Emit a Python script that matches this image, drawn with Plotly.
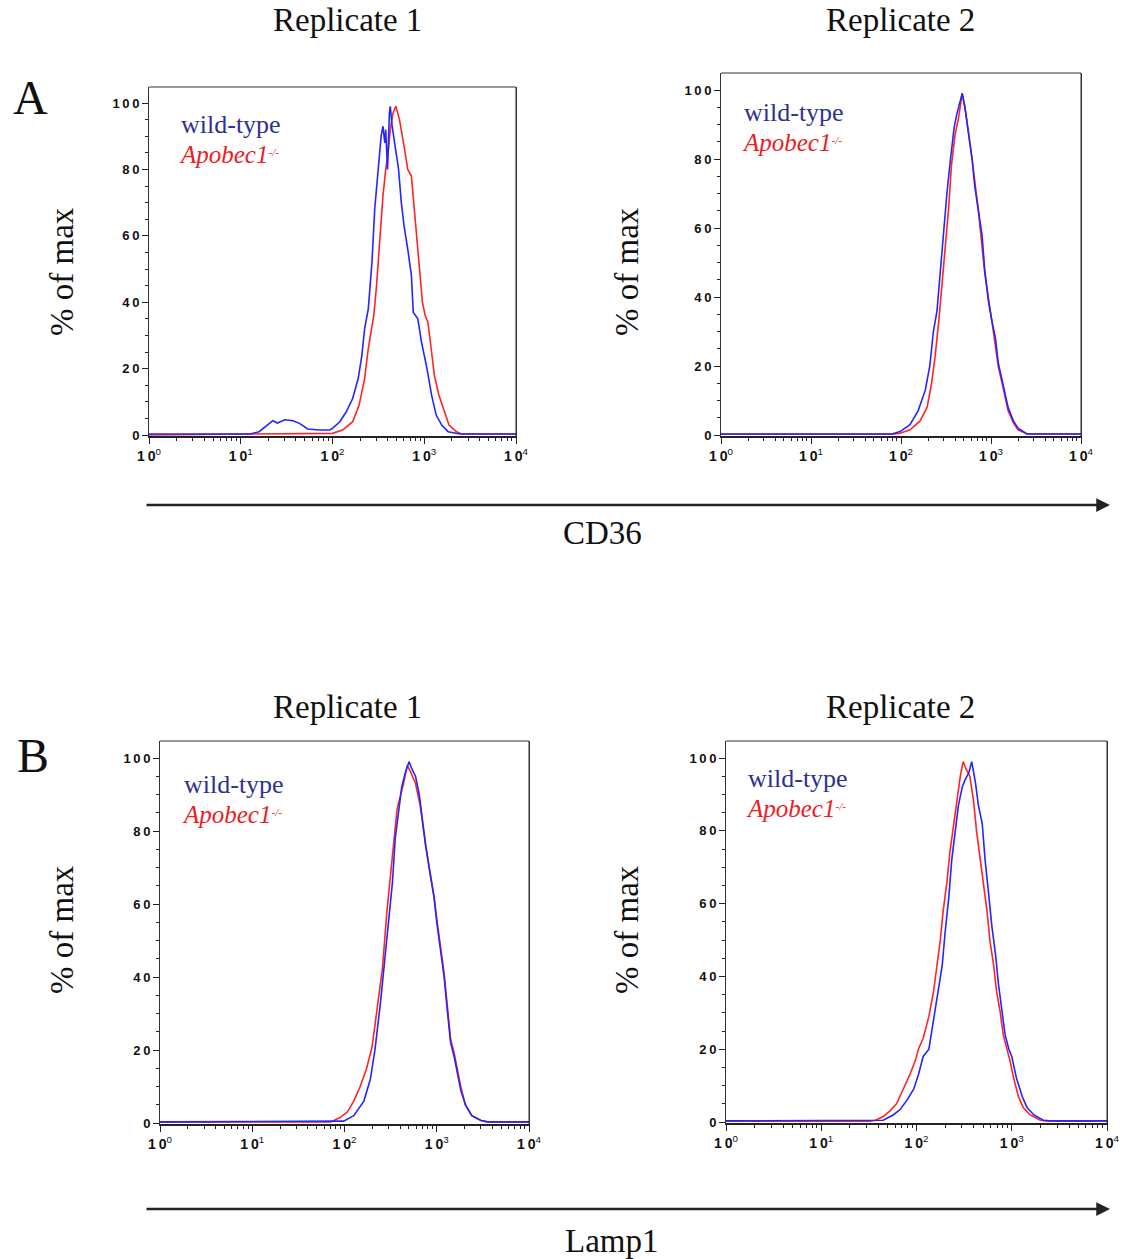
import numpy as np
import plotly.graph_objects as go

# ---------------- data (x = log10 fluorescence, y = % of max) ----------------
a1_wt_x = [0.0, 1.10, 1.20, 1.35, 1.40, 1.48, 1.57, 1.64, 1.73, 1.86, 1.97, 2.00, 2.08, 2.15, 2.22, 2.28,
           2.32, 2.35, 2.39, 2.43, 2.46, 2.50, 2.53, 2.55, 2.57, 2.58, 2.60, 2.62, 2.63, 2.65, 2.68,
           2.72, 2.75, 2.78, 2.82, 2.86, 2.88, 2.93, 2.97, 3.03, 3.08, 3.13, 3.19, 3.26, 3.39, 4.0]
a1_wt_y = [0.3, 0.3, 1.0, 4.3, 3.6, 4.6, 4.3, 3.5, 1.8, 1.5, 1.5, 2.0, 4.0, 7.0, 11.0, 17.0,
           24.0, 32.0, 38.0, 52.0, 68.0, 82.0, 90.0, 93.0, 88.0, 92.0, 80.0, 97.0, 99.0, 93.0, 88.0,
           80.0, 70.0, 63.0, 56.0, 48.0, 37.0, 35.0, 28.0, 20.0, 12.0, 6.0, 3.0, 1.0, 0.3, 0.3]
a1_ko_x = [0.0, 1.10, 2.00, 2.11, 2.22, 2.29, 2.35, 2.39, 2.43, 2.45, 2.48, 2.52, 2.55, 2.58, 2.61,
           2.63, 2.66, 2.69, 2.73, 2.78, 2.82, 2.86, 2.90, 2.95, 2.98, 3.01, 3.04, 3.08, 3.11, 3.16,
           3.22, 3.27, 3.35, 3.41, 4.0]
a1_ko_y = [0.0, 0.3, 0.5, 1.5, 4.0, 9.0, 17.0, 26.0, 33.0, 36.0, 45.0, 60.0, 72.0, 80.0, 86.0,
           92.0, 97.0, 99.0, 95.0, 87.0, 80.0, 78.0, 65.0, 50.0, 40.0, 36.0, 34.0, 25.0, 18.0, 12.0,
           7.0, 3.0, 1.0, 0.3, 0.3]

a2_wt_x = [0.0, 1.90, 1.99, 2.10, 2.19, 2.27, 2.32, 2.36, 2.40, 2.43, 2.47, 2.51, 2.55, 2.59, 2.62,
           2.66, 2.68, 2.71, 2.75, 2.79, 2.82, 2.86, 2.90, 2.93, 2.97, 3.01, 3.05, 3.08, 3.14, 3.19,
           3.25, 3.30, 3.40, 4.0]
a2_wt_y = [0.3, 0.3, 1.0, 3.0, 7.0, 13.0, 20.0, 30.0, 36.0, 46.0, 58.0, 70.0, 80.0, 89.0, 93.0,
           97.0, 99.0, 95.0, 88.0, 80.0, 72.0, 65.0, 58.0, 48.0, 39.0, 33.0, 28.0, 21.0, 14.0, 8.0,
           4.0, 2.0, 0.3, 0.3]
a2_ko_x = [0.0, 1.90, 1.99, 2.10, 2.21, 2.29, 2.34, 2.38, 2.42, 2.45, 2.49, 2.53, 2.56, 2.60, 2.64,
           2.68, 2.71, 2.75, 2.79, 2.86, 2.93, 3.01, 3.08, 3.14, 3.19, 3.25, 3.30, 3.40, 4.0]
a2_ko_y = [0.2, 0.2, 0.5, 1.5, 4.0, 8.0, 15.0, 23.0, 33.0, 42.0, 54.0, 66.0, 78.0, 87.0, 92.0,
           99.0, 95.0, 88.0, 80.0, 65.0, 47.0, 33.0, 20.0, 13.0, 7.0, 3.5, 1.5, 0.3, 0.3]

b1_wt_x = [0.0, 1.88, 1.99, 2.10, 2.21, 2.28, 2.33, 2.39, 2.44, 2.48, 2.52, 2.55, 2.59, 2.62, 2.66,
           2.70, 2.73, 2.77, 2.81, 2.84, 2.88, 2.93, 2.97, 3.00, 3.04, 3.08, 3.11, 3.15, 3.19, 3.22,
           3.26, 3.31, 3.38, 3.48, 3.55, 4.0]
b1_wt_y = [0.3, 0.3, 0.5, 2.0, 6.0, 12.0, 20.0, 33.0, 45.0, 55.0, 66.0, 78.0, 87.0, 92.0, 96.0,
           99.0, 97.0, 95.0, 90.0, 84.0, 76.0, 68.0, 62.0, 55.0, 48.0, 40.0, 32.0, 22.0, 18.0, 14.0,
           9.0, 5.0, 2.0, 0.7, 0.3, 0.3]
b1_ko_x = [0.0, 1.85, 1.88, 1.95, 2.03, 2.10, 2.17, 2.24, 2.30, 2.35, 2.41, 2.46, 2.50, 2.53, 2.57,
           2.61, 2.64, 2.68, 2.72, 2.77, 2.82, 2.88, 2.97, 3.00, 3.08, 3.15, 3.19, 3.26, 3.31, 3.38,
           3.48, 3.55, 4.0]
b1_ko_y = [0.2, 0.3, 0.6, 1.5, 3.0, 6.0, 10.0, 15.0, 21.0, 31.0, 42.0, 58.0, 68.0, 77.0, 86.0,
           90.0, 93.0, 98.0, 96.0, 93.0, 87.0, 76.0, 62.0, 56.0, 41.0, 23.0, 19.0, 10.0, 5.0, 2.0,
           0.7, 0.3, 0.3]

b2_wt_x = [0.0, 1.60, 1.65, 1.76, 1.83, 1.90, 1.97, 2.02, 2.07, 2.13, 2.18, 2.23, 2.27, 2.30, 2.34,
           2.37, 2.41, 2.44, 2.48, 2.51, 2.55, 2.58, 2.62, 2.65, 2.69, 2.72, 2.76, 2.79, 2.83, 2.86,
           2.90, 2.93, 2.97, 3.00, 3.05, 3.11, 3.16, 3.23, 3.33, 3.40, 4.0]
b2_wt_y = [0.3, 0.3, 0.5, 2.0, 3.5, 6.0, 9.0, 13.0, 18.0, 20.0, 28.0, 36.0, 43.0, 52.0, 62.0,
           72.0, 80.0, 87.0, 92.0, 94.0, 96.0, 99.0, 93.0, 87.0, 82.0, 72.0, 62.0, 54.0, 46.0, 38.0,
           30.0, 24.0, 20.0, 18.0, 12.0, 7.0, 4.0, 2.0, 0.5, 0.3, 0.3]
b2_ko_x = [0.0, 1.51, 1.57, 1.65, 1.72, 1.79, 1.86, 1.93, 1.99, 2.02, 2.07, 2.13, 2.18, 2.21, 2.25,
           2.28, 2.32, 2.35, 2.39, 2.42, 2.46, 2.49, 2.52, 2.56, 2.60, 2.63, 2.67, 2.70, 2.74, 2.77,
           2.81, 2.84, 2.88, 2.91, 2.95, 2.98, 3.02, 3.07, 3.12, 3.19, 3.30, 3.37, 4.0]
b2_ko_y = [0.2, 0.2, 0.5, 1.5, 3.0, 5.0, 9.0, 13.0, 17.0, 20.0, 23.0, 29.0, 36.0, 42.0, 50.0,
           58.0, 66.0, 74.0, 82.0, 88.0, 95.0, 99.0, 97.0, 95.0, 88.0, 80.0, 72.0, 66.0, 58.0, 50.0,
           43.0, 36.0, 30.0, 24.0, 20.0, 17.0, 12.0, 7.0, 4.0, 2.0, 0.5, 0.3, 0.3]

x_tick_exponents = [0, 1, 2, 3, 4]
y_tick_values = [0, 20, 40, 60, 80, 100]
col_titles = ["Replicate 1", "Replicate 2"]
row_labels = ["A", "B"]
marker_names = ["CD36", "Lamp1"]
series_names = ["wild-type", "Apobec1"]

# ---------------- layout helpers ----------------
W, H = 1125, 1259
BLUE, RED = "#2525ff", "#ff2424"
BLUE_TXT, RED_TXT = "#2e3192", "#ed1c24"
THIN = "\u2009"

# panels: (data, pixel box left,right,top,bottom, y0 pixel, y100 pixel)
panels = [
    (a1_wt_x, a1_wt_y, a1_ko_x, a1_ko_y, 149, 516, 87, 436, 435, 103),
    (a2_wt_x, a2_wt_y, a2_ko_x, a2_ko_y, 721, 1081, 73, 436, 435, 90),
    (b1_wt_x, b1_wt_y, b1_ko_x, b1_ko_y, 160, 529, 741, 1124, 1123, 758),
    (b2_wt_x, b2_wt_y, b2_ko_x, b2_ko_y, 726, 1107, 741, 1123, 1122, 758),
]
legend_pos = [(177, 124, 152), (740, 112, 140), (180, 784, 812), (744, 779, 806)]

fig = go.Figure()
major = [10.0 ** e for e in x_tick_exponents]
minor_vals = [m * 10.0 ** d for d in range(4) for m in range(2, 10)]
ytick_font = dict(family="Liberation Sans, Arial, sans-serif", size=13, color="#111")
xtick_font = dict(family="Liberation Sans, Arial, sans-serif", size=14, color="#111")

for i, (wx, wy, kx, ky, l, r, t, b, y0p, y100p) in enumerate(panels):
    n = "" if i == 0 else str(i + 1)
    xa, ya = "x" + n, "y" + n
    s = (y0p - y100p) / 100.0
    ymin = -(b - y0p) / s
    ymax = (y0p - t) / s
    fig.add_trace(go.Scatter(x=np.power(10.0, kx), y=ky, mode="lines", xaxis=xa, yaxis=ya,
                             line=dict(color=RED, width=1.6), showlegend=False, hoverinfo="skip"))
    fig.add_trace(go.Scatter(x=np.power(10.0, wx), y=wy, mode="lines", xaxis=xa, yaxis=ya,
                             line=dict(color=BLUE, width=1.6), showlegend=False, hoverinfo="skip"))
    fig.update_layout({
        "xaxis" + n: dict(type="log", domain=[l / W, r / W], range=[0, 4], anchor=ya,
                          automargin=False,
                          tickmode="array", tickvals=major,
                          ticktext=["<b>1" + THIN + "0</b><sup>%d</sup>" % e for e in x_tick_exponents],
                          ticks="outside", ticklen=6, tickwidth=1, tickcolor="#222",
                          minor=dict(tickmode="array", tickvals=minor_vals, ticks="outside",
                                     ticklen=3, tickcolor="#222"),
                          showline=True, linecolor="#222", linewidth=1.5, mirror=False,
                          showgrid=False, zeroline=False, tickfont=xtick_font),
        "yaxis" + n: dict(domain=[1 - b / H, 1 - t / H], range=[ymin, ymax], anchor=xa,
                          automargin=False,
                          tickmode="array", tickvals=y_tick_values,
                          ticktext=["<b>" + THIN.join(str(v)) + "</b>" for v in y_tick_values],
                          ticks="outside", ticklen=6, tickwidth=1, tickcolor="#222",
                          minor=dict(dtick=5, ticks="outside", ticklen=3, tickcolor="#222"),
                          showline=True, linecolor="#333", linewidth=1, mirror=True,
                          showgrid=False, zeroline=False, tickfont=ytick_font),
    })
    # top & right frame lines
    fig.add_shape(type="line", xref="paper", yref="paper", x0=l / W, x1=r / W,
                  y0=1 - t / H, y1=1 - t / H, line=dict(color="#333", width=1))
    fig.add_shape(type="line", xref="paper", yref="paper", x0=r / W, x1=r / W,
                  y0=1 - t / H, y1=1 - b / H, line=dict(color="#333", width=1))
    lx, ly1, ly2 = legend_pos[i]
    legend_text = ("<span style='color:%s;font-size:26px'>%s</span><br>"
                   "<span style='color:%s;font-size:25px'><i>%s<span style='font-size:16px'>"
                   "<sup>-/-</sup></span></i></span>"
                   % (BLUE_TXT, series_names[0], RED_TXT, series_names[1]))
    fig.add_annotation(xref="paper", yref="paper", x=lx / W, y=1 - ((ly1 + ly2) / 2 + 1) / H,
                       xanchor="left", yanchor="middle", align="left", showarrow=False,
                       text=legend_text,
                       font=dict(family="Liberation Serif, serif", size=23, color=BLUE_TXT))
    # y-axis title
    fig.add_annotation(xref="paper", yref="paper", x=(62 if i % 2 == 0 else 627) / W,
                       y=1 - (272 if i < 2 else 930) / H,
                       xanchor="center", yanchor="middle", showarrow=False, textangle=-90,
                       text="% of max",
                       font=dict(family="Liberation Serif, serif", size=33, color="#111"))

serif = "Liberation Serif, serif"
for row, (ty, ly, ay, my) in enumerate([(20, 97, 505, 533), (707, 755, 1209, 1241)]):
    for c, cx in enumerate([347, 900]):
        fig.add_annotation(xref="paper", yref="paper", x=cx / W, y=1 - ty / H, showarrow=False,
                           xanchor="center", yanchor="middle", text=col_titles[c],
                           font=dict(family=serif, size=33, color="#111"))
    fig.add_annotation(xref="paper", yref="paper", x=(30 if row == 0 else 33) / W, y=1 - ly / H,
                       showarrow=False, xanchor="center", yanchor="middle", text=row_labels[row],
                       font=dict(family=serif, size=48, color="#111"))
    fig.add_annotation(xref="paper", yref="paper", x=1110 / W, y=1 - ay / H, ax=-(1110 - 145),
                       ay=0, axref="pixel", ayref="pixel", text="", showarrow=True,
                       arrowhead=2, arrowsize=1.1, arrowwidth=2.5, arrowcolor="#222")
    fig.add_annotation(xref="paper", yref="paper", x=(602 if row == 0 else 611) / W,
                       y=1 - my / H, showarrow=False, xanchor="center", yanchor="middle",
                       text=marker_names[row], font=dict(family=serif, size=33, color="#111"))

fig.update_layout(width=W, height=H, margin=dict(l=0, r=0, t=0, b=0),
                  paper_bgcolor="white", plot_bgcolor="white")
fig.write_html("out.html")
